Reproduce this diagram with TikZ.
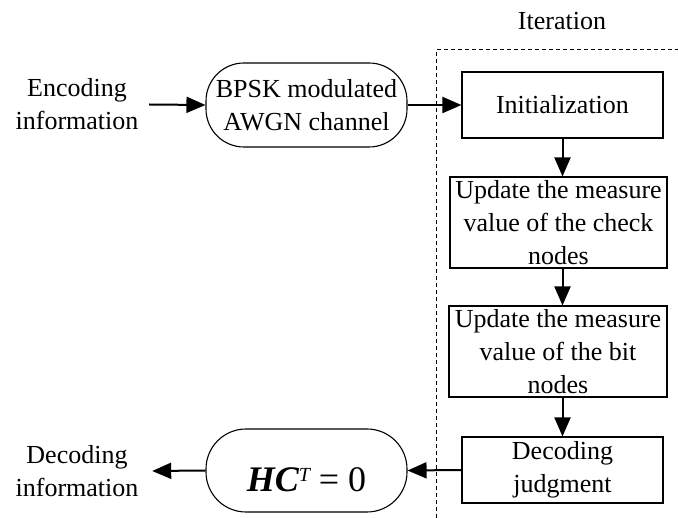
\documentclass[tikz,border=0pt]{standalone}
\usepackage{fontspec}
\setmainfont{Liberation Serif}
\usetikzlibrary{arrows.meta}
\begin{document}
\begin{tikzpicture}[x=1pt,y=-1pt,
  every node/.style={font=\fontsize{26}{33}\selectfont, inner sep=0pt, align=center},
  procbox/.style={draw, line width=1.1pt},
  roundbox/.style={draw, line width=1.1pt, rounded corners=38pt},
  flow/.style={line width=2pt, -{Triangle[length=19pt,width=16pt]}},
  iterline/.style={line width=1pt, dash pattern=on 4pt off 3pt}]
\useasboundingbox (0,0) rectangle (678,518);
% boxes
\node[procbox, minimum width=201pt, minimum height=66pt] (init) at (562.5,105) {Initialization};
\node[procbox, minimum width=217pt, minimum height=91pt] (check) at (558.5,222.5) {Update the measure\\value of the check\\nodes};
\node[procbox, minimum width=218pt, minimum height=91pt] (bit) at (558,351.5) {Update the measure\\value of the bit\\nodes};
\node[procbox, minimum width=201pt, minimum height=66pt] (judge) at (562.5,470) {Decoding\\judgment};
\node[roundbox, minimum width=201pt, minimum height=84pt] (bpsk) at (306.5,105) {BPSK modulated\\AWGN channel};
\node[roundbox, minimum width=201pt, minimum height=83pt, rounded corners=40pt,
  label={[yshift=-9pt]center:\fontsize{36}{40}\selectfont{\bfseries\itshape HC}\raisebox{10pt}{\fontsize{20}{22}\selectfont\itshape T}\hspace{9pt}= 0}] (hc) at (306.5,470.5) {};
% plain texts
\node[minimum width=144pt] (enc) at (77,104.5) {Encoding\\information};
\node[minimum width=150pt] (dec) at (77,471) {Decoding\\information};
\node (iter) at (562,21) {Iteration};
% iteration frame
\coordinate (dtop) at (436,50);
\coordinate (dbot) at (436,518);
\coordinate (dright) at (678,50);
\draw[iterline] (dbot) -- (dtop) -- (dright);
% connectors
\draw[flow] (enc.east) -- (bpsk.west);
\draw[flow] (bpsk.east) -- (init.west);
\draw[flow] (init.south) -- (init.south |- check.north);
\draw[flow] (init.south |- check.south) -- (init.south |- bit.north);
\draw[flow] (init.south |- bit.south) -- (judge.north);
\draw[flow] (judge.west) -- (hc.east);
\draw[flow] (hc.west) -- (dec.east);
\end{tikzpicture}
\end{document}
